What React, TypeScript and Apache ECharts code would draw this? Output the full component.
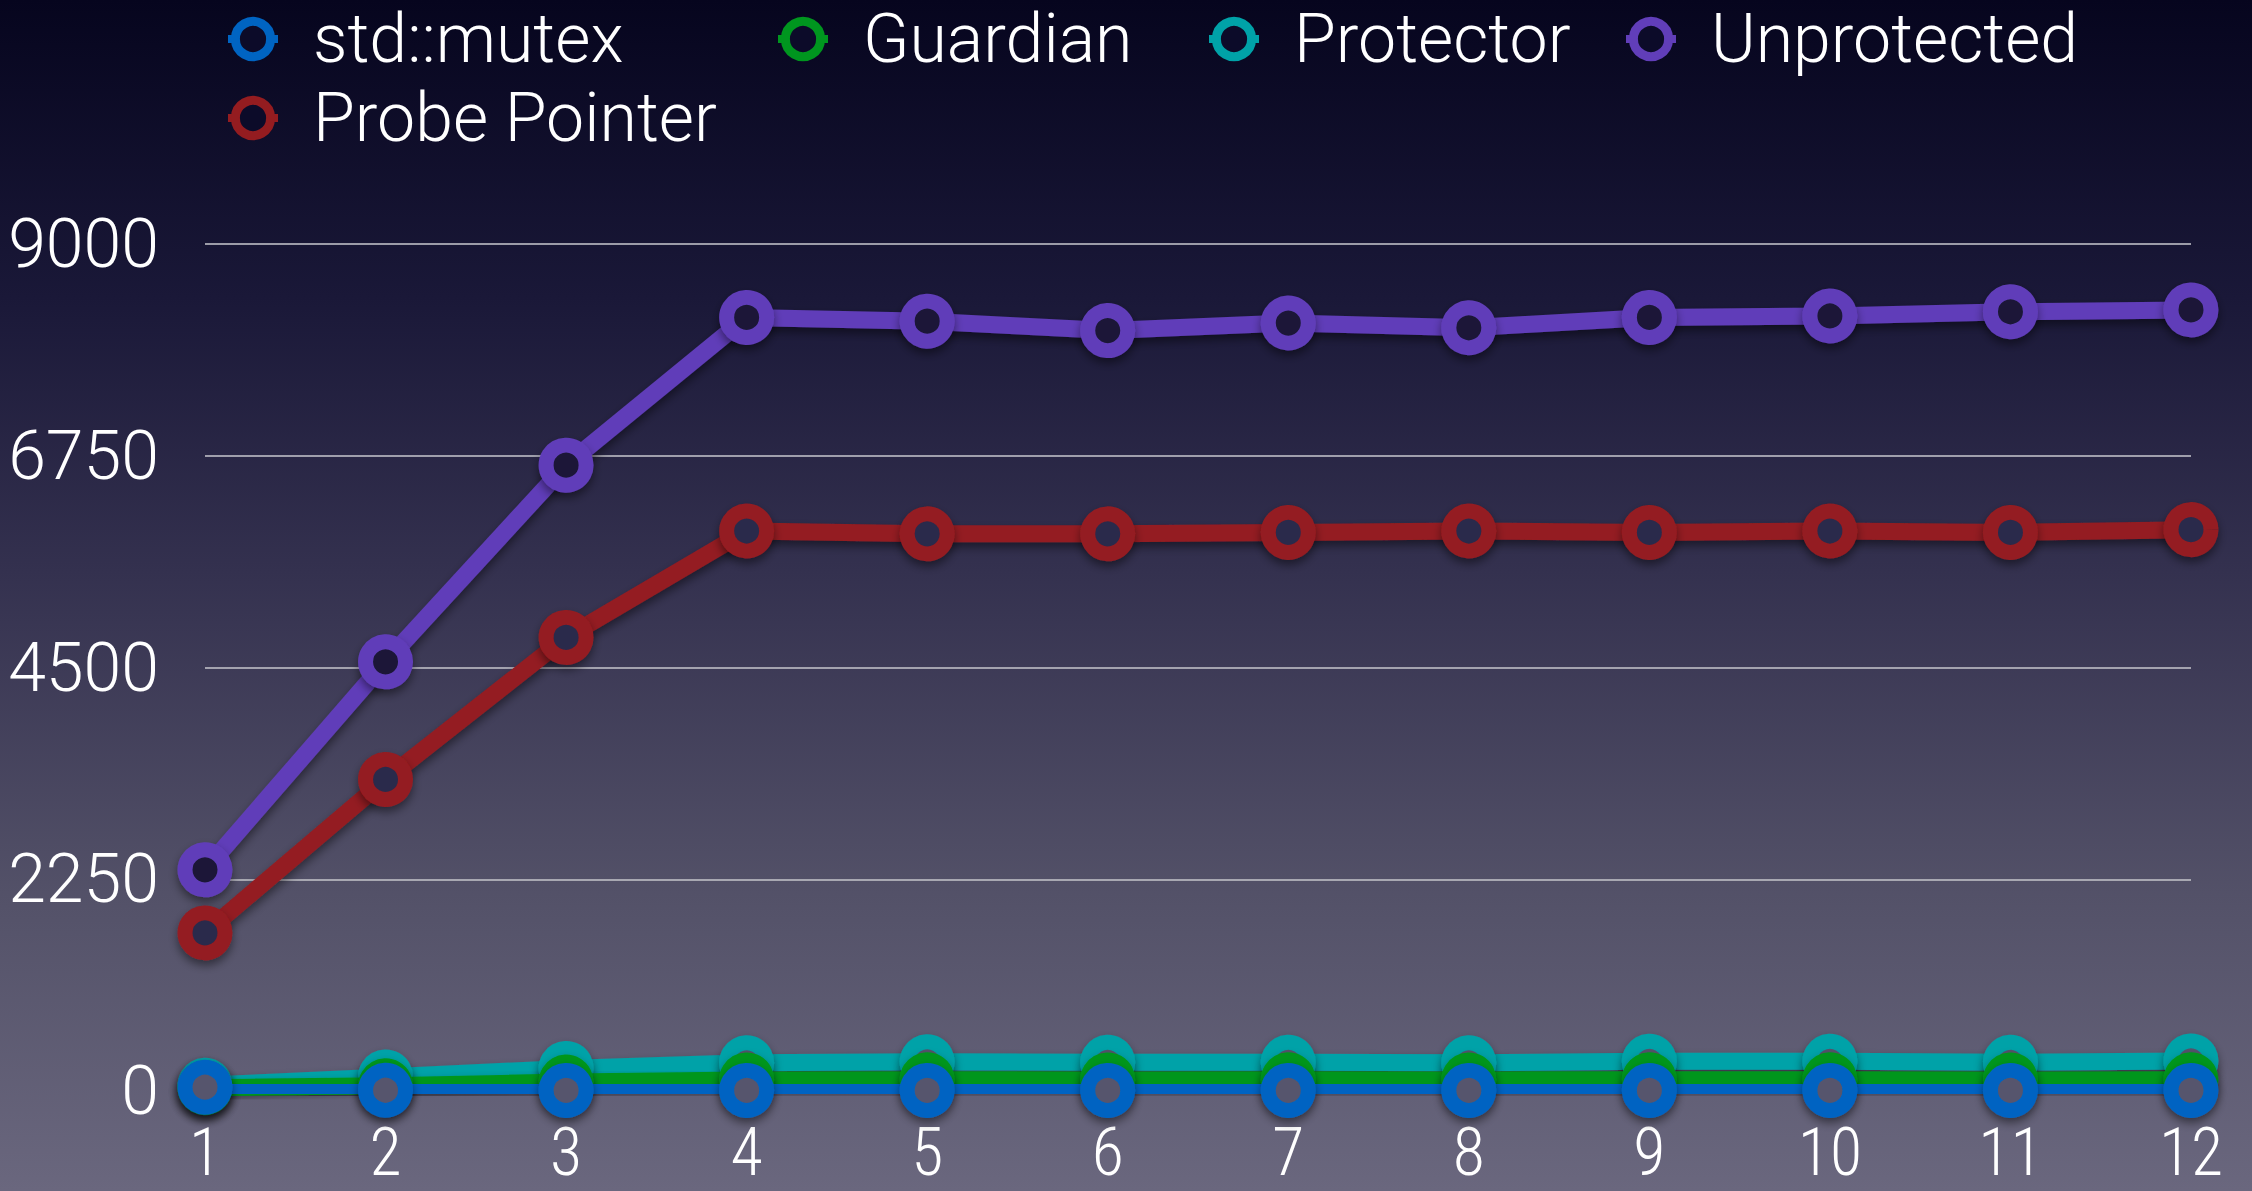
import React, { useEffect, useRef } from "react";
import * as echarts from "echarts";

const categories = ["1", "2", "3", "4", "5", "6", "7", "8", "9", "10", "11", "12"];
const mutexValues = [40, 8, 6, 6, 6, 6, 6, 6, 6, 6, 6, 6];
const guardianValues = [35, 55, 95, 118, 120, 118, 119, 118, 120, 119, 118, 120];
const protectorValues = [60, 150, 240, 300, 310, 305, 305, 300, 315, 315, 305, 320];
const unprotectedValues = [2350, 4560, 6650, 8220, 8180, 8080, 8160, 8110, 8220, 8235, 8280, 8300];
const probeValues = [1680, 3310, 4820, 5950, 5920, 5920, 5935, 5950, 5935, 5950, 5935, 5965];
const yTicks = { min: 0, max: 9000, interval: 2250 };

const FONT = "Roboto, 'Liberation Sans', sans-serif";
const NARROW = "'Liberation Sans Narrow', 'Roboto Condensed', Roboto, sans-serif";

function makeSeries(name: string, data: number[], color: string, hole: string, z: number) {
  return {
    name,
    type: "line",
    data,
    z,
    symbol: "circle",
    symbolSize: 40,
    showAllSymbol: true,
    lineStyle: {
      color,
      width: 17,
      shadowColor: "rgba(0,0,0,0.45)",
      shadowBlur: 10,
      shadowOffsetY: 5,
    },
    itemStyle: {
      color: hole,
      borderColor: color,
      borderWidth: 15,
      shadowColor: "rgba(0,0,0,0.45)",
      shadowBlur: 10,
      shadowOffsetY: 5,
    },
  };
}

function makeLegend(name: string, left: number, top: number) {
  return {
    data: [name],
    left,
    top,
    orient: "horizontal",
    itemWidth: 50,
    itemHeight: 44,
    itemStyle: { borderWidth: 9, color: "#0c0b29" },
    lineStyle: { width: 8 },
    selectedMode: false,
    textStyle: {
      color: "#ffffff",
      fontSize: 68,
      fontFamily: FONT,
      fontWeight: 300,
      lineHeight: 76,
      padding: [0, 0, 0, 30],
    },
  };
}

export default function App() {
  const ref = useRef<HTMLDivElement>(null);
  useEffect(() => {
    document.body.style.margin = "0";
    if (!ref.current) return;
    const chart = echarts.init(ref.current, null, { renderer: "svg" });
    chart.setOption({
      animation: false,
      backgroundColor: "transparent",
      grid: { left: 205, right: 61, top: 244, bottom: 100, containLabel: false },
      legend: [
        makeLegend("std::mutex", 219, -4),
        makeLegend("Guardian", 769, -4),
        makeLegend("Protector", 1200, -4),
        makeLegend("Unprotected", 1617, -4),
        makeLegend("Probe Pointer", 219, 75),
      ],
      xAxis: {
        type: "category",
        data: categories,
        boundaryGap: false,
        axisLine: { show: false },
        axisTick: { show: false },
        splitLine: { show: false },
        axisLabel: {
          color: "#ffffff",
          fontSize: 66,
          fontFamily: NARROW,
          fontWeight: 300,
          margin: 28,
        },
      },
      yAxis: {
        type: "value",
        min: yTicks.min,
        max: yTicks.max,
        interval: yTicks.interval,
        axisLine: { show: false },
        axisTick: { show: false },
        axisLabel: {
          color: "#ffffff",
          fontSize: 68,
          fontFamily: FONT,
          fontWeight: 300,
          margin: 46,
          formatter: (v: number) => String(v),
        },
        splitLine: { lineStyle: { color: "rgba(190,190,198,0.8)", width: 2 } },
      },
      series: [
        makeSeries("std::mutex", mutexValues, "#0064c2", "#57556d", 6),
        makeSeries("Guardian", guardianValues, "#00961f", "#56546c", 5),
        makeSeries("Protector", protectorValues, "#00a2a8", "#55536b", 4),
        makeSeries("Unprotected", unprotectedValues, "#613eb9", "#1b1938", 3),
        makeSeries("Probe Pointer", probeValues, "#941c20", "#2c2a4b", 3),
      ],
    });
    return () => chart.dispose();
  }, []);
  return (
    <div
      ref={ref}
      style={{
        width: 2252,
        height: 1191,
        background: "linear-gradient(to bottom, #06051e 0%, #1a1838 25%, #34314f 48%, #535168 75%, #6a677e 100%)",
      }}
    />
  );
}
